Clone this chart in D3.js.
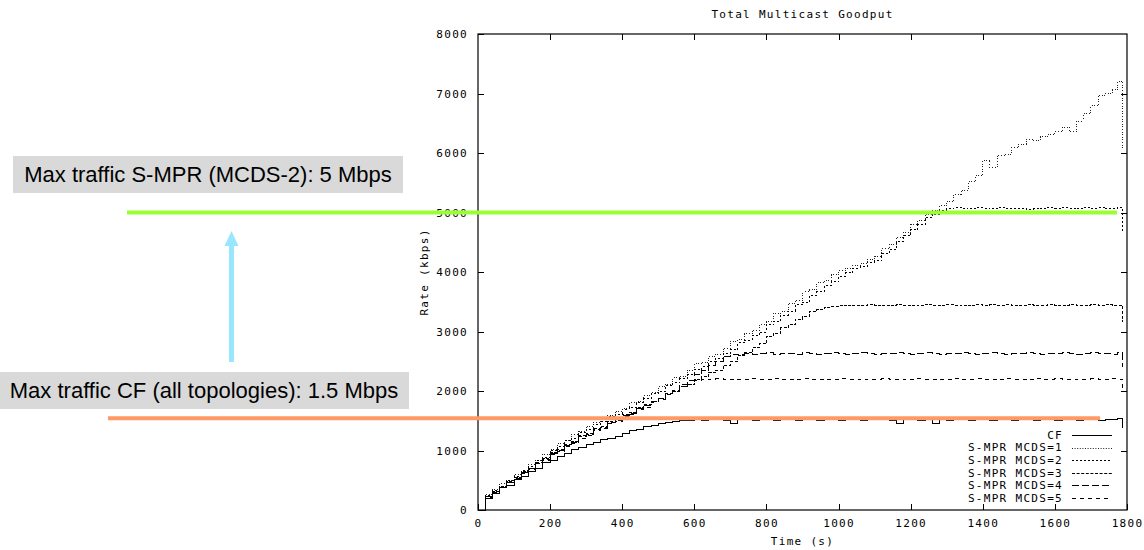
<!DOCTYPE html>
<html>
<head>
<meta charset="utf-8">
<script src="https://cdn.jsdelivr.net/npm/d3@7"></script>
<style>
  html, body { margin: 0; padding: 0; background: #fff; }
  svg { display: block; }
</style>
</head>
<body>
<svg id="chart" width="1144" height="550"></svg>
<script>
// ---------------- DATA ----------------
const chartTitle = "Total Multicast Goodput";
const xLabel = "Time (s)";
const yLabel = "Rate (kbps)";
const xTicks = [0, 200, 400, 600, 800, 1000, 1200, 1400, 1600, 1800];
const yTicks = [0, 1000, 2000, 3000, 4000, 5000, 6000, 7000, 8000];

const times = [
  0, 20, 40, 60, 80, 100, 120, 140, 160, 180,
  200, 220, 240, 260, 280, 300, 320, 340, 360, 380,
  400, 420, 440, 460, 480, 500, 520, 540, 560, 580,
  600, 620, 640, 660, 680, 700, 720, 740, 760, 780,
  800, 820, 840, 860, 880, 900, 920, 940, 960, 980,
  1000, 1020, 1040, 1060, 1080, 1100, 1120, 1140, 1160, 1180,
  1200, 1220, 1240, 1260, 1280, 1300, 1320, 1340, 1360, 1380,
  1400, 1420, 1440, 1460, 1480, 1500, 1520, 1540, 1560, 1580,
  1600, 1620, 1640, 1660, 1680, 1700, 1720, 1740, 1760, 1775,
  1788
];

const seriesNames = ["CF", "S-MPR MCDS=1", "S-MPR MCDS=2", "S-MPR MCDS=3", "S-MPR MCDS=4", "S-MPR MCDS=5"];

const cf = [
  0, 200, 270, 370, 420, 510, 560, 650, 700, 790,
  840, 900, 950, 1010, 1050, 1100, 1130, 1180, 1200, 1240,
  1290, 1330, 1360, 1400, 1420, 1450, 1470, 1490, 1500, 1510,
  1520, 1510, 1520, 1520, 1510, 1460, 1520, 1520, 1510, 1520,
  1520, 1510, 1520, 1520, 1510, 1520, 1520, 1510, 1520, 1520,
  1510, 1520, 1520, 1510, 1520, 1520, 1520, 1510, 1460, 1520,
  1520, 1510, 1520, 1460, 1520, 1510, 1520, 1520, 1510, 1520,
  1520, 1510, 1520, 1520, 1510, 1520, 1520, 1510, 1520, 1520,
  1510, 1520, 1520, 1510, 1520, 1520, 1510, 1520, 1520, 1530,
  1380
];

const mcds1 = [
  0, 260, 340, 440, 490, 600, 650, 770, 840, 940,
  1010, 1110, 1160, 1270, 1320, 1410, 1470, 1560, 1590, 1660,
  1700, 1800, 1820, 1930, 1970, 2070, 2110, 2220, 2240, 2350,
  2460, 2480, 2580, 2620, 2720, 2840, 2870, 2960, 3020, 3110,
  3160, 3310, 3330, 3470, 3520, 3680, 3700, 3820, 3860, 3950,
  4020, 4060, 4110, 4140, 4210, 4260, 4390, 4470, 4580, 4660,
  4790, 4870, 4970, 5040, 5110, 5190, 5310, 5370, 5520, 5620,
  5880, 5760, 5960, 5980, 6090, 6150, 6230, 6210, 6270, 6310,
  6360, 6430, 6360, 6530, 6660, 6790, 6970, 7000, 7060, 7210,
  6050
];

const mcds2 = [
  0, 240, 320, 400, 500, 560, 660, 730, 830, 890,
  1000, 1060, 1160, 1210, 1310, 1360, 1440, 1490, 1570, 1610,
  1690, 1730, 1810, 1870, 1950, 1990, 2090, 2140, 2210, 2270,
  2360, 2410, 2490, 2550, 2630, 2690, 2810, 2850, 2930, 2990,
  3110, 3170, 3270, 3340, 3450, 3490, 3610, 3670, 3770, 3840,
  3930, 3990, 4060, 4090, 4160, 4190, 4310, 4370, 4510, 4610,
  4710, 4790, 4910, 4970, 5040, 5060, 5080, 5060, 5070, 5080,
  5070, 5060, 5080, 5070, 5070, 5060, 5050, 5060, 5070, 5080,
  5070, 5080, 5070, 5060, 5080, 5070, 5080, 5060, 5070, 5080,
  4650
];

const mcds3 = [
  0, 230, 310, 390, 480, 540, 640, 700, 800, 860,
  960, 1010, 1100, 1150, 1250, 1290, 1370, 1410, 1490, 1530,
  1610, 1640, 1720, 1770, 1830, 1870, 1960, 1990, 2070, 2110,
  2190, 2240, 2310, 2350, 2430, 2490, 2590, 2640, 2730, 2790,
  2910, 2970, 3060, 3110, 3210, 3250, 3340, 3370, 3410, 3420,
  3430, 3440, 3430, 3440, 3450, 3440, 3430, 3440, 3450, 3440,
  3430, 3440, 3450, 3440, 3440, 3450, 3440, 3430, 3440, 3450,
  3440, 3450, 3440, 3450, 3440, 3440, 3450, 3440, 3440, 3450,
  3440, 3440, 3450, 3440, 3440, 3450, 3440, 3450, 3440, 3440,
  3160
];

const mcds4 = [
  0, 220, 300, 380, 470, 530, 630, 690, 790, 850,
  950, 1000, 1090, 1140, 1230, 1270, 1350, 1390, 1470, 1510,
  1590, 1630, 1710, 1750, 1830, 1870, 1960, 2010, 2110, 2170,
  2270, 2340, 2430, 2490, 2580, 2610, 2620, 2630, 2620, 2630,
  2640, 2620, 2630, 2630, 2620, 2640, 2630, 2620, 2630, 2640,
  2630, 2620, 2630, 2640, 2630, 2620, 2630, 2630, 2640, 2630,
  2620, 2630, 2640, 2630, 2620, 2630, 2630, 2640, 2630, 2620,
  2630, 2640, 2630, 2620, 2630, 2630, 2640, 2630, 2620, 2630,
  2630, 2640, 2630, 2620, 2630, 2640, 2630, 2630, 2620, 2640,
  2400
];

const mcds5 = [
  0, 210, 300, 370, 460, 520, 620, 680, 780, 840,
  930, 980, 1070, 1120, 1210, 1250, 1330, 1370, 1450, 1490,
  1570, 1610, 1690, 1730, 1810, 1860, 1940, 1990, 2070, 2110,
  2170, 2190, 2200, 2210, 2200, 2200, 2190, 2200, 2210, 2200,
  2200, 2210, 2200, 2190, 2200, 2210, 2200, 2200, 2190, 2200,
  2210, 2200, 2200, 2190, 2200, 2200, 2210, 2200, 2190, 2200,
  2200, 2210, 2200, 2200, 2190, 2200, 2210, 2200, 2200, 2210,
  2200, 2190, 2200, 2210, 2200, 2200, 2190, 2210, 2200, 2200,
  2210, 2200, 2190, 2200, 2200, 2210, 2200, 2200, 2210, 2200,
  2050
];

// annotation values (kbps) and captions
const annotationValues = [5000, 1540];
const annotationTexts = ["Max traffic S-MPR (MCDS-2): 5 Mbps", "Max traffic CF (all topologies): 1.5 Mbps"];

// ---------------- DRAW ----------------
const svg = d3.select("#chart");
const plot = { left: 478, right: 1127, top: 34, bottom: 510 };
const monoFont = "'DejaVu Sans Mono', 'Liberation Mono', monospace";

const x = d3.scaleLinear().domain([0, 1800]).range([plot.left, plot.right]);
const y = d3.scaleLinear().domain([0, 8000]).range([plot.bottom, plot.top]);

svg.append("rect").attr("width", 1144).attr("height", 550).attr("fill", "#fff");

function styleAxis(g) {
  g.select(".domain").remove();
  g.selectAll("line").attr("stroke", "#000").attr("stroke-width", 1).attr("shape-rendering", "crispEdges");
  g.selectAll("text").attr("font-family", monoFont).attr("font-size", 11)
    .attr("letter-spacing", "1.3px").attr("fill", "#000");
}

svg.append("g").attr("transform", `translate(${plot.left},0)`)
  .call(d3.axisLeft(y).tickValues(yTicks).tickFormat(d3.format("d")).tickSize(-6).tickPadding(10))
  .call(styleAxis);
svg.append("g").attr("transform", `translate(${plot.right},0)`)
  .call(d3.axisRight(y).tickValues(yTicks.slice(1, -1)).tickFormat("").tickSize(-6))
  .call(styleAxis);
svg.append("g").attr("transform", `translate(0,${plot.bottom})`)
  .call(d3.axisBottom(x).tickValues(xTicks).tickFormat(d3.format("d")).tickSize(-6).tickPadding(9))
  .call(styleAxis);
svg.append("g").attr("transform", `translate(0,${plot.top})`)
  .call(d3.axisTop(x).tickValues(xTicks.slice(1, -1)).tickFormat("").tickSize(-6))
  .call(styleAxis);

// frame
svg.append("rect")
  .attr("x", plot.left).attr("y", plot.top)
  .attr("width", plot.right - plot.left).attr("height", plot.bottom - plot.top)
  .attr("fill", "none").attr("stroke", "#000").attr("stroke-width", 1.2);

// title & labels
svg.append("text").attr("x", (plot.left + plot.right) / 2).attr("y", 18)
  .attr("text-anchor", "middle").attr("font-family", monoFont).attr("font-size", 11)
  .attr("letter-spacing", "1.3px").text(chartTitle);
svg.append("text").attr("x", (plot.left + plot.right) / 2).attr("y", 545)
  .attr("text-anchor", "middle").attr("font-family", monoFont).attr("font-size", 11)
  .attr("letter-spacing", "1.3px").text(xLabel);
svg.append("text").attr("transform", `translate(428,${(plot.top + plot.bottom) / 2}) rotate(-90)`)
  .attr("text-anchor", "middle").attr("font-family", monoFont).attr("font-size", 11)
  .attr("letter-spacing", "1.3px").text(yLabel);

// series
const seriesValues = [cf, mcds1, mcds2, mcds3, mcds4, mcds5];
const dashes = [null, "1,1.6", "2,2", "3,1.6", "7,3", "4,4"];
const strokes = ["#000", "#222", "#000", "#000", "#000", "#000"];

const line = d3.line().x(d => x(d[0])).y(d => y(d[1])).curve(d3.curveStepAfter);

const seriesG = svg.append("g");
seriesValues.forEach((vals, i) => {
  const pts = times.map((t, j) => [t, vals[j]]);
  seriesG.append("path")
    .attr("d", line(pts))
    .attr("fill", "none")
    .attr("stroke", strokes[i])
    .attr("stroke-width", 1)
    .attr("stroke-dasharray", dashes[i])
    .attr("shape-rendering", "crispEdges");
});

// legend
const legend = svg.append("g");
seriesNames.forEach((name, i) => {
  const ly = 435 + i * 12.6;
  legend.append("text").attr("x", 1063).attr("y", ly).attr("dy", "0.35em")
    .attr("text-anchor", "end").attr("font-family", monoFont).attr("font-size", 11)
    .attr("letter-spacing", "1.3px").text(name);
  legend.append("line").attr("x1", 1072).attr("x2", 1112).attr("y1", Math.round(ly) + 0.5).attr("y2", Math.round(ly) + 0.5)
    .attr("stroke", strokes[i]).attr("stroke-width", 1).attr("stroke-dasharray", dashes[i]);
});

// annotations
const ann = svg.append("g");
ann.append("line").attr("x1", 127).attr("x2", 1117)
  .attr("y1", y(annotationValues[0])).attr("y2", y(annotationValues[0]))
  .attr("stroke", "#99ff33").attr("stroke-width", 4);
ann.append("line").attr("x1", 108).attr("x2", 1100)
  .attr("y1", y(annotationValues[1])).attr("y2", y(annotationValues[1]))
  .attr("stroke", "#ff9966").attr("stroke-width", 4);

// arrow
ann.append("rect").attr("x", 229).attr("y", 245).attr("width", 5).attr("height", 117).attr("fill", "#99e6ff");
ann.append("path").attr("d", "M224.5,246 L238.5,246 L231.5,231 Z").attr("fill", "#99e6ff");

// boxes
ann.append("rect").attr("x", 13).attr("y", 156).attr("width", 390).attr("height", 37).attr("fill", "#d9d9d9");
ann.append("text").attr("x", 208).attr("y", 182).attr("text-anchor", "middle")
  .attr("font-family", "'Liberation Sans', Arial, sans-serif").attr("font-size", 22).attr("fill", "#000")
  .text(annotationTexts[0]);
ann.append("rect").attr("x", 0).attr("y", 372).attr("width", 409).attr("height", 37).attr("fill", "#d9d9d9");
ann.append("text").attr("x", 204).attr("y", 398).attr("text-anchor", "middle")
  .attr("font-family", "'Liberation Sans', Arial, sans-serif").attr("font-size", 22).attr("fill", "#000")
  .text(annotationTexts[1]);
</script>
</body>
</html>
